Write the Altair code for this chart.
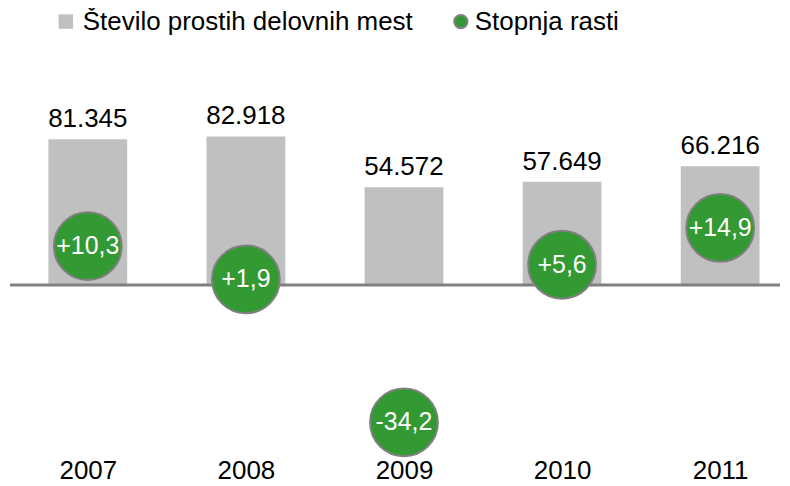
import altair as alt
import pandas as pd

years = [2007, 2008, 2009, 2010, 2011]
vacancies = [81345, 82918, 54572, 57649, 66216]
growth = [10.3, 1.9, -34.2, 5.6, 14.9]
series_names = ["Število prostih delovnih mest", "Stopnja rasti"]

vac_labels = [f"{v:,}".replace(",", ".") for v in vacancies]
gr_labels = [f"{g:+.1f}".replace(".", ",") for g in growth]

bars_df = pd.DataFrame({"year": years, "value": vacancies, "label": vac_labels,
                        "series": series_names[0]})
pts_df = pd.DataFrame({"year": years, "growth": growth, "label": gr_labels,
                       "series2": series_names[1]})

W, H = 774, 448
FONT = "Liberation Sans"
GRAY = "#c0c0c0"
GREEN = "#339933"
LINE = "#808080"

# pixel-based scale setup
x0_px, step_px = 80, 158.5
x_dom = [2007 - x0_px / step_px, 2007 + (W - x0_px) / step_px]
zero1, k1 = 277, 0.001795
y1_dom = [-(H - zero1) / k1, zero1 / k1]
zero2, k2 = 279, 3.97
y2_dom = [-(H - zero2) / k2, zero2 / k2]

xenc = alt.X("year:Q", scale=alt.Scale(domain=x_dom, nice=False, zero=False, padding=0),
             axis=alt.Axis(values=years, format="d", title=None, domain=False, ticks=False,
                           grid=False, labelFontSize=26, labelFont=FONT, labelColor="#000000",
                           labelPadding=2, labelFlush=False))
y1 = alt.Y("value:Q", scale=alt.Scale(domain=y1_dom, nice=False, zero=False), axis=None)

color = alt.Color("series:N", scale=alt.Scale(domain=[series_names[0]], range=[GRAY]),
                  legend=alt.Legend(
                      title=None, orient="none", legendX=45, legendY=0,
                      labelFontSize=26, labelFont=FONT, labelColor="#000000", labelLimit=0,
                      symbolSize=210, symbolType="square", symbolStrokeWidth=0,
                      labelOffset=4, padding=0))
fill = alt.Fill("series2:N", scale=alt.Scale(domain=[series_names[1]], range=[GREEN]),
                legend=alt.Legend(
                    title=None, orient="none", legendX=441, legendY=0,
                    labelFontSize=26, labelFont=FONT, labelColor="#000000", labelLimit=0,
                    symbolSize=180, symbolType="circle", symbolStrokeColor=LINE,
                    symbolStrokeWidth=2, labelOffset=1, padding=0))

bars = alt.Chart(bars_df).mark_bar(size=79).encode(x=xenc, y=y1, color=color)
bar_text = alt.Chart(bars_df).mark_text(fontSize=26, font=FONT, color="#000000",
                                        baseline="alphabetic", dy=-12).encode(
    x=alt.X("year:Q"), y=alt.Y("value:Q"), text="label:N")
rule = alt.Chart(pd.DataFrame({"v": [0]})).mark_rule(color=LINE, strokeWidth=3).encode(
    y=alt.Y("v:Q"), x=alt.value(2), x2=alt.value(W))

primary = alt.layer(bars, bar_text, rule)

y2 = alt.Y("growth:Q", scale=alt.Scale(domain=y2_dom, nice=False, zero=False), axis=None)
pts = alt.Chart(pts_df).mark_point(filled=True, shape="circle", size=4624, opacity=1,
                                   stroke=LINE, strokeWidth=2).encode(
    x=alt.X("year:Q"), y=y2, fill=fill)
pt_text = alt.Chart(pts_df).mark_text(fontSize=25, font=FONT, color="#ffffff",
                                      baseline="middle").encode(
    x=alt.X("year:Q"), y=alt.Y("growth:Q"), text="label:N")
secondary = alt.layer(pts, pt_text)

chart = alt.layer(primary, secondary).resolve_scale(y="independent").properties(
    width=W, height=H, padding=0
).configure_view(stroke=None)

chart.save("out.html", embed_options={"renderer": "svg", "actions": False})
